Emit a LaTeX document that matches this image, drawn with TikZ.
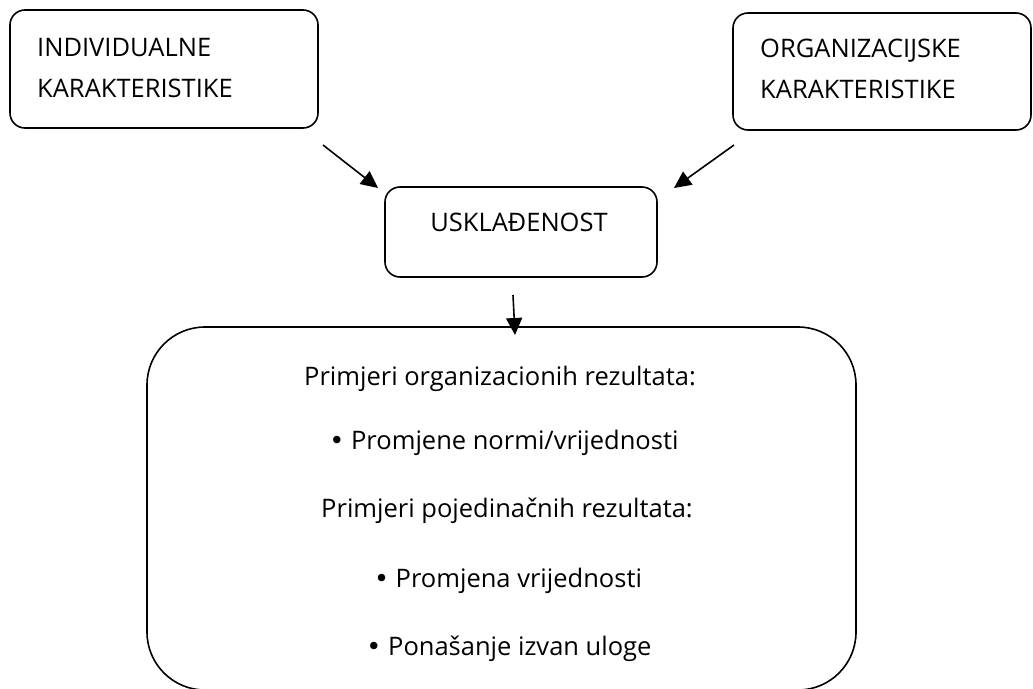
\documentclass[tikz,border=0pt]{standalone}
\usepackage{fontspec}
\setmainfont{Open Sans}
\newfontfamily\bulfont{DejaVu Sans}
\newcommand{\bigbul}{{\bulfont •}}
\usetikzlibrary{arrows.meta}
\begin{document}
\begin{tikzpicture}[x=1pt,y=-1pt,
  box/.style={draw,line width=1.6pt,rounded corners=15pt,inner sep=0pt},
  lbl/.style={inner sep=0pt,font=\fontsize{25.5}{41}\selectfont},
  arr/.style={line width=1.6pt,-{Triangle[length=17pt,width=16pt]}}]
\useasboundingbox (0,0) rectangle (1033,688);
\node[box,minimum width=308pt,minimum height=118pt] (ind) at (164,69) {};
\node[box,minimum width=298pt,minimum height=117pt] (org) at (882,71.5) {};
\node[box,minimum width=272pt,minimum height=90pt] (usk) at (521,232) {};
\node[draw,line width=1.6pt,rounded corners=58pt,inner sep=0pt,minimum width=709pt,minimum height=363pt] (res) at (501.5,508.5) {};
\node[lbl,anchor=base west,align=left] (tind) at (37,97) {INDIVIDUALNE\\KARAKTERISTIKE};
\node[lbl,anchor=base west,align=left] (torg) at (760,98) {ORGANIZACIJSKE\\KARAKTERISTIKE};
\node[lbl,anchor=base] (tusk) at (519,231) {USKLAĐENOST};
\node[lbl,anchor=base] (t1) at (500,385) {Primjeri organizacionih rezultata:};
\node[lbl,anchor=base] (t2) at (504,449) {\bigbul\ Promjene normi/vrijednosti};
\node[lbl,anchor=base] (t3) at (507,517) {Primjeri pojedinačnih rezultata:};
\node[lbl,anchor=base] (t4) at (508,587) {\bigbul\ Promjena vrijednosti};
\node[lbl,anchor=base] (t5) at (509,655) {\bigbul\ Ponašanje izvan uloge};
\coordinate (a1s) at (323,145);
\coordinate (a1e) at (378,188);
\coordinate (a2s) at (734,145);
\coordinate (a2e) at (674,188);
\coordinate (a3s) at (513,295);
\coordinate (a3e) at (515,335);
\draw[arr] (a1s) -- (a1e);
\draw[arr] (a2s) -- (a2e);
\draw[arr] (a3s) -- (a3e);
\end{tikzpicture}
\end{document}
